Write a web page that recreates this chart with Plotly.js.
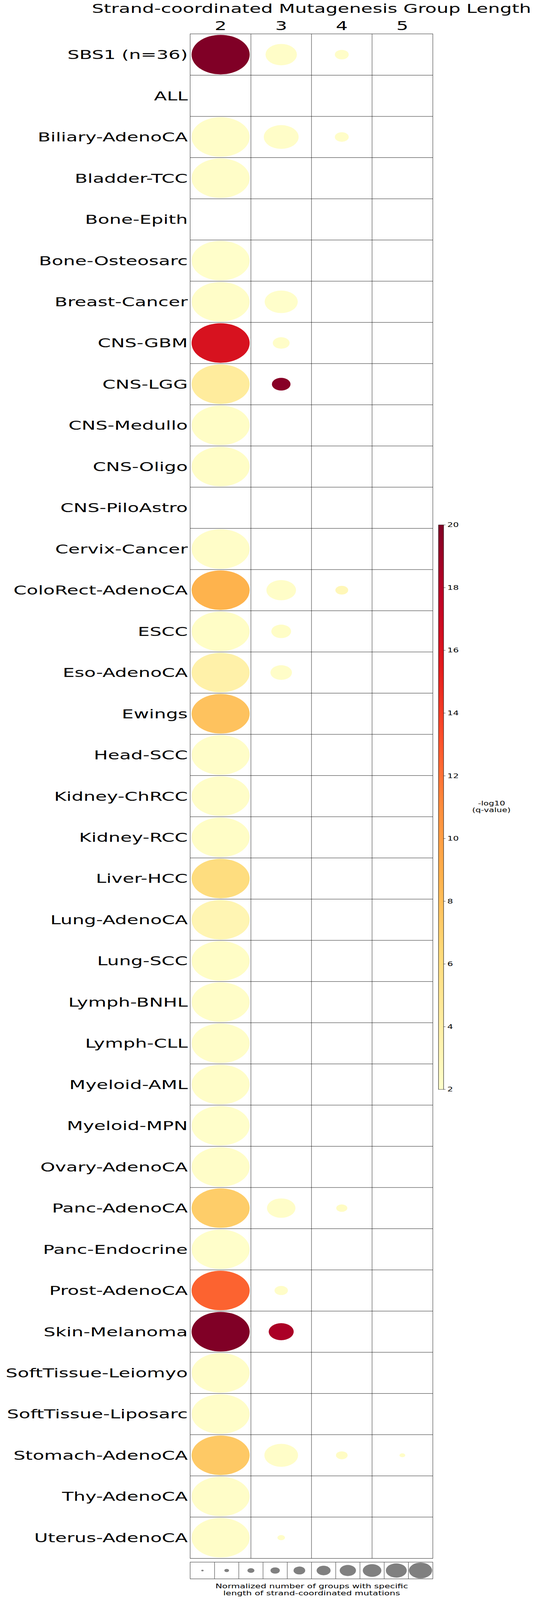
<!DOCTYPE html>
<html>
<head>
<meta charset="utf-8">
<script src="https://cdn.plot.ly/plotly-3.0.1.min.js"></script>
<style>html,body{margin:0;padding:0;background:#fff;overflow:hidden;}#wrap{position:relative;width:1374px;overflow:hidden;}#chart{width:1374px;height:6020px;transform-origin:0 0;}</style>
</head>
<body>
<div id="wrap"><div id="chart"></div></div>
<script>
// ---- data ----
const categories = ["SBS1 (n=36)","ALL","Biliary-AdenoCA","Bladder-TCC","Bone-Epith","Bone-Osteosarc","Breast-Cancer","CNS-GBM","CNS-LGG","CNS-Medullo","CNS-Oligo","CNS-PiloAstro","Cervix-Cancer","ColoRect-AdenoCA","ESCC","Eso-AdenoCA","Ewings","Head-SCC","Kidney-ChRCC","Kidney-RCC","Liver-HCC","Lung-AdenoCA","Lung-SCC","Lymph-BNHL","Lymph-CLL","Myeloid-AML","Myeloid-MPN","Ovary-AdenoCA","Panc-AdenoCA","Panc-Endocrine","Prost-AdenoCA","Skin-Melanoma","SoftTissue-Leiomyo","SoftTissue-Liposarc","Stomach-AdenoCA","Thy-AdenoCA","Uterus-AdenoCA"];
const lengthLabels = ["2","3","4","5"];

// normalized number of groups (circle size), null = no circle
const norm2 = [1,null,1,1,null,1,1,1,1,1,1,null,1,1,1,1,1,1,1,1,1,1,1,1,1,1,1,1,1,1,1,1,1,1,1,1,1];
const norm3 = [0.54,null,0.60,null,null,null,0.57,0.29,0.32,null,null,null,null,0.51,0.34,0.37,null,null,null,null,null,null,null,null,null,null,null,null,0.49,null,0.23,0.43,null,null,0.58,null,0.13];
const norm4 = [0.24,null,0.24,null,null,null,null,null,null,null,null,null,null,0.22,null,null,null,null,null,null,null,null,null,null,null,null,null,null,0.19,null,null,null,null,null,0.20,null,null];
const norm5 = [null,null,null,null,null,null,null,null,null,null,null,null,null,null,null,null,null,null,null,null,null,null,null,null,null,null,null,null,null,null,null,null,null,null,0.10,null,null];

// -log10(q-value) (circle colour)
const q2 = [20,null,2.2,2.2,null,2.1,2.2,16.2,4.4,2.3,2.3,null,2.2,8.7,2.3,3.8,7.8,2.2,2.2,2.3,6.0,3.3,2.3,2.2,2.2,2.2,2.1,2.2,7.2,2.1,12.5,20,2.2,2.2,7.4,2.2,2.2];
const q3 = [2.2,null,2.2,null,null,null,2.1,2.2,19.7,null,null,null,null,2.2,2.3,2.2,null,null,null,null,null,null,null,null,null,null,null,null,2.2,null,2.2,18.4,null,null,2.2,null,2.2];
const q4 = [2.2,null,2.2,null,null,null,null,null,null,null,null,null,null,3.0,null,null,null,null,null,null,null,null,null,null,null,null,null,null,2.4,null,null,null,null,null,2.4,null,null];
const q5 = [null,null,null,null,null,null,null,null,null,null,null,null,null,null,null,null,null,null,null,null,null,null,null,null,null,null,null,null,null,null,null,null,null,null,2.2,null,null];

const legendValues = [0.1,0.2,0.3,0.4,0.5,0.6,0.7,0.8,0.9,1.0];

// ---- build ----
const FONT = "DejaVu Sans";
const cellPx = 155, legendCellPx = 62, fill = 0.96;
const normCols = [norm2, norm3, norm4, norm5];
const qCols = [q2, q3, q4, q5];

const xs = [], ys = [], sz = [], cs = [];
for (let c = 0; c < lengthLabels.length; c++) {
  for (let r = 0; r < categories.length; r++) {
    const v = normCols[c][r];
    if (v === null || v === undefined) continue;
    xs.push(c + 1); ys.push(r + 1);
    sz.push(v * cellPx * fill);
    cs.push(qCols[c][r]);
  }
}

const ylorrd = [
  [0,'#ffffcc'],[0.125,'#ffeda0'],[0.25,'#fed976'],[0.375,'#feb24c'],
  [0.5,'#fd8d3c'],[0.625,'#fc4e2a'],[0.75,'#e31a1c'],[0.875,'#bd0026'],[1,'#800026']
];

const W = 1374, H = 6020;
const mL = 487, mR = 267, mT = 128, mB = 80;
const plotW = W - mL - mR, plotH = H - mT - mB;
const py = px => (H - mB - px) / plotH;   // pixel row -> paper y
const pxX = px => (px - mL) / plotW;       // pixel col -> paper x

const mainBottom = py(mT + cellPx * categories.length);
const legendTop = py(5878);

const main = {
  type: 'scatter', mode: 'markers', x: xs, y: ys, xaxis: 'x', yaxis: 'y',
  hoverinfo: 'skip', showlegend: false,
  marker: {
    size: sz, sizemode: 'diameter', color: cs, cmin: 2, cmax: 20, opacity: 1,
    colorscale: ylorrd, line: {width: 0},
    colorbar: {
      x: pxX(1122), xanchor: 'left', xpad: 0, xref: 'paper',
      y: py(3037), yanchor: 'middle', ypad: 0, yref: 'paper',
      len: 2124, lenmode: 'pixels', thickness: 13, thicknessmode: 'pixels',
      outlinewidth: 1, outlinecolor: '#000',
      tickmode: 'linear', tick0: 2, dtick: 2,
      ticks: 'outside', ticklen: 5, tickcolor: '#333', tickwidth: 1,
      tickfont: {family: FONT, size: 23, color: '#000'}
    }
  }
};

const legendTrace = {
  type: 'scatter', mode: 'markers',
  x: legendValues.map((v, i) => i + 1), y: legendValues.map(() => 1),
  xaxis: 'x2', yaxis: 'y2', hoverinfo: 'skip', showlegend: false,
  marker: {size: legendValues.map(v => v * legendCellPx * fill), color: '#808080', opacity: 1, line: {width: 0}}
};

// grid lines between cells
const shapes = [];
for (let r = 1; r < categories.length; r++) {
  shapes.push({type: 'line', xref: 'x domain', yref: 'y', x0: 0, x1: 1, y0: r + 0.5, y1: r + 0.5,
    line: {color: '#000', width: 1}, layer: 'below'});
}
for (let c = 1; c < lengthLabels.length; c++) {
  shapes.push({type: 'line', xref: 'x', yref: 'y domain', x0: c + 0.5, x1: c + 0.5, y0: 0, y1: 1,
    line: {color: '#000', width: 1}, layer: 'below'});
}
for (let c = 1; c < legendValues.length; c++) {
  shapes.push({type: 'line', xref: 'x2', yref: 'y2 domain', x0: c + 0.5, x1: c + 0.5, y0: 0, y1: 1,
    line: {color: '#000', width: 1}, layer: 'below'});
}

const axisBase = {showgrid: false, zeroline: false, showline: true, mirror: true, linecolor: '#000', linewidth: 1, fixedrange: true};

const layout = {
  width: W, height: H,
  margin: {l: mL, r: mR, t: mT, b: mB, pad: 0},
  paper_bgcolor: '#fff', plot_bgcolor: '#fff',
  font: {family: FONT, color: '#000'},
  title: {text: 'Strand-coordinated Mutagenesis Group Length', x: 0.5, xref: 'paper', xanchor: 'center',
          y: 1 - 31 / H, yref: 'container', yanchor: 'middle', font: {family: FONT, size: 48, color: '#000'}},
  xaxis: Object.assign({}, axisBase, {
    domain: [0, 1], anchor: 'y', side: 'top', range: [0.5, lengthLabels.length + 0.5],
    tickmode: 'array', tickvals: lengthLabels.map((l, i) => i + 1), ticktext: lengthLabels,
    ticks: 'outside', ticklen: 0, ticklabelstandoff: -5, tickfont: {family: FONT, size: 48, color: '#000'}
  }),
  yaxis: Object.assign({}, axisBase, {
    domain: [mainBottom, 1], anchor: 'x', range: [categories.length + 0.5, 0.5],
    tickmode: 'array', tickvals: categories.map((c, i) => i + 1), ticktext: categories,
    ticks: '', ticklabelstandoff: -4,
    tickfont: {family: FONT, size: 48, color: '#000'}
  }),
  xaxis2: Object.assign({}, axisBase, {
    domain: [0, 1], anchor: 'y2', range: [0.5, legendValues.length + 0.5], showticklabels: false, ticks: ''
  }),
  yaxis2: Object.assign({}, axisBase, {
    domain: [0, legendTop], anchor: 'x2', range: [0.5, 1.5], showticklabels: false, ticks: ''
  }),
  shapes: shapes,
  annotations: [
    {text: '-log10', xref: 'paper', yref: 'paper', x: pxX(1257), y: py(3023), xanchor: 'center', yanchor: 'middle',
     showarrow: false, font: {family: FONT, size: 22, color: '#000'}},
    {text: '(q-value)', xref: 'paper', yref: 'paper', x: pxX(1257), y: py(3047), xanchor: 'center', yanchor: 'middle',
     showarrow: false, font: {family: FONT, size: 22, color: '#000'}},
    {text: 'Normalized number of groups with specific', xref: 'paper', yref: 'paper', x: 0.5, y: py(5968),
     xanchor: 'center', yanchor: 'middle', showarrow: false, font: {family: FONT, size: 23, color: '#000'}},
    {text: 'length of strand-coordinated mutations', xref: 'paper', yref: 'paper', x: 0.5, y: py(5994),
     xanchor: 'center', yanchor: 'middle', showarrow: false, font: {family: FONT, size: 23, color: '#000'}}
  ]
};

Plotly.newPlot('chart', [main, legendTrace], layout, {staticPlot: true, displayModeBar: false});

// The browser viewport may be shorter than the requested 6020 px; fit the whole figure into it.
const f = Math.min(1, (window.innerHeight || H) / H);
document.getElementById('chart').style.transform = 'scale(1,' + f + ')';
document.getElementById('wrap').style.height = (H * f) + 'px';
</script>
</body>
</html>
